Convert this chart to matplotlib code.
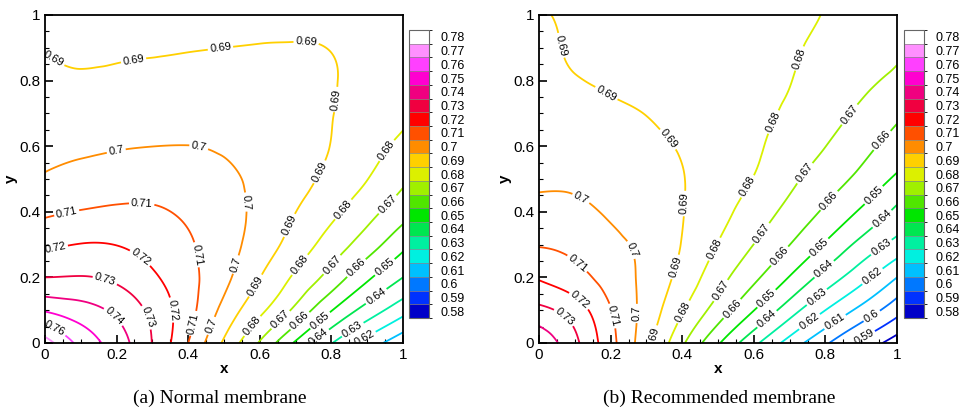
# Contour maps of two membranes with Tecplot-style legends
import numpy as np
import matplotlib
matplotlib.use("Agg")
import matplotlib.pyplot as plt
from matplotlib.colors import ListedColormap, BoundaryNorm
from matplotlib.cm import ScalarMappable
from matplotlib.ticker import MultipleLocator, FormatStrFormatter
from matplotlib.tri import Triangulation, CubicTriInterpolator

plt.rcParams['font.family'] = ['Liberation Sans', 'DejaVu Sans']

# Contour levels and their legend colours (0.58 -> 0.78)
levels = [0.58, 0.59, 0.60, 0.61, 0.62, 0.63, 0.64, 0.65, 0.66, 0.67, 0.68,
          0.69, 0.70, 0.71, 0.72, 0.73, 0.74, 0.75, 0.76, 0.77, 0.78]
level_colors = ['#0000c8', '#0032ff', '#0078ff', '#00c0ff', '#00f0e0', '#00f0a0',
                '#00e650', '#00e600', '#50e600', '#a0f000', '#dcf000', '#ffd000',
                '#ff8c00', '#ff5000', '#ff0000', '#f00040', '#f00080', '#ff00d0',
                '#ff40ff', '#ff90ff', '#ffffff']

# Sample grid
grid_x = [0.0, 0.1, 0.2, 0.3, 0.4, 0.5, 0.6, 0.7, 0.8, 0.9, 1.0]
grid_y = [0.0, 0.1, 0.2, 0.3, 0.4, 0.5, 0.6, 0.7, 0.8, 0.9, 1.0]

# (a) Normal membrane, rows = y, cols = x
field_a = [
    [0.775, 0.757, 0.745, 0.7297, 0.710, 0.6885, 0.669, 0.6485, 0.6305, 0.6157, 0.603],
    [0.749, 0.744, 0.7378, 0.7274, 0.7137, 0.697, 0.6823, 0.6676, 0.6505, 0.636, 0.6237],
    [0.730, 0.7305, 0.728, 0.7216, 0.713, 0.7026, 0.6902, 0.6783, 0.666, 0.6519, 0.640],
    [0.7182, 0.7203, 0.7198, 0.7163, 0.7112, 0.7041, 0.6955, 0.6856, 0.6756, 0.6648, 0.6526],
    [0.7082, 0.7105, 0.7116, 0.7112, 0.7081, 0.7033, 0.6977, 0.6901, 0.6823, 0.6735, 0.664],
    [0.7009, 0.7034, 0.7051, 0.7056, 0.7041, 0.702, 0.6975, 0.693, 0.6874, 0.6802, 0.6718],
    [0.6976, 0.6982, 0.6993, 0.69995, 0.7001, 0.6988, 0.6956, 0.6927, 0.6898, 0.6839, 0.6778],
    [0.6948, 0.6946, 0.6954, 0.6962, 0.6965, 0.6959, 0.694, 0.692, 0.6902, 0.6862, 0.6818],
    [0.692, 0.691, 0.6916, 0.6923, 0.6929, 0.693, 0.6928, 0.6922, 0.6905, 0.6873, 0.6839],
    [0.6895, 0.6885, 0.6888, 0.6892, 0.6896, 0.690, 0.6903, 0.6904, 0.6898, 0.6876, 0.685],
    [0.6865, 0.6855, 0.686, 0.6866, 0.6872, 0.688, 0.6885, 0.6886, 0.688, 0.6865, 0.685],
]

# (b) Recommended membrane
field_b = [
    [0.748, 0.7323, 0.7133, 0.6935, 0.6717, 0.6512, 0.6326, 0.616, 0.6015, 0.5875, 0.575],
    [0.7326, 0.725, 0.7105, 0.6963, 0.6809, 0.6654, 0.6502, 0.6346, 0.620, 0.6071, 0.5938],
    [0.719, 0.7135, 0.7059, 0.6973, 0.6867, 0.6739, 0.6621, 0.6495, 0.636, 0.6235, 0.610],
    [0.7094, 0.7076, 0.703, 0.6971, 0.6896, 0.6796, 0.6699, 0.6601, 0.6489, 0.6371, 0.6266],
    [0.703, 0.7022, 0.6987, 0.6945, 0.6903, 0.6833, 0.6755, 0.6671, 0.6584, 0.6486, 0.6378],
    [0.6985, 0.6984, 0.697, 0.6945, 0.6904, 0.685, 0.6797, 0.6723, 0.6649, 0.6574, 0.6482],
    [0.6965, 0.6955, 0.694, 0.6923, 0.6891, 0.6853, 0.6814, 0.6761, 0.6701, 0.6632, 0.6559],
    [0.6948, 0.6935, 0.6915, 0.6898, 0.6871, 0.6845, 0.6819, 0.6787, 0.6737, 0.6683, 0.6619],
    [0.6932, 0.6905, 0.6888, 0.6871, 0.6853, 0.6836, 0.6819, 0.6802, 0.6763, 0.6722, 0.668],
    [0.6918, 0.6892, 0.6878, 0.6863, 0.6849, 0.6835, 0.6821, 0.6807, 0.6785, 0.6755, 0.6715],
    [0.6905, 0.6891, 0.6878, 0.6865, 0.6851, 0.6838, 0.6824, 0.6811, 0.6797, 0.6765, 0.6735],
]

captions = ['(a) Normal membrane', '(b) Recommended membrane']

# where the contour labels sit in the picture
label_spots_a = [(0.02, 0.86), (0.25, 0.845), (0.49, 0.9), (0.73, 0.925), (0.83, 0.74),
                 (0.77, 0.52), (0.68, 0.36), (0.58, 0.18),
                 (0.2, 0.58), (0.43, 0.6), (0.565, 0.43), (0.53, 0.24), (0.47, 0.05),
                 (0.06, 0.4), (0.27, 0.42), (0.43, 0.27), (0.414, 0.06),
                 (0.03, 0.285), (0.28, 0.28), (0.35, 0.1),
                 (0.17, 0.2), (0.29, 0.08), (0.2, 0.09), (0.03, 0.05),
                 (0.95, 0.59), (0.83, 0.41), (0.71, 0.24), (0.57, 0.06),
                 (0.95, 0.43), (0.79, 0.25), (0.65, 0.08),
                 (0.86, 0.24), (0.71, 0.07), (0.95, 0.23), (0.76, 0.08),
                 (0.92, 0.15), (0.77, 0.01), (0.86, 0.04), (0.89, 0.02)]
label_spots_b = [(0.044, 0.903), (0.188, 0.761), (0.37, 0.629), (0.408, 0.425),
                 (0.38, 0.232), (0.314, 0.018),
                 (0.114, 0.435), (0.268, 0.288), (0.277, 0.09),
                 (0.114, 0.252), (0.212, 0.084), (0.109, 0.125), (0.063, 0.069),
                 (0.739, 0.863), (0.664, 0.669), (0.585, 0.476), (0.496, 0.283), (0.403, 0.095),
                 (0.869, 0.695), (0.743, 0.517), (0.622, 0.334), (0.506, 0.161),
                 (0.958, 0.618), (0.809, 0.435), (0.664, 0.273), (0.534, 0.11),
                 (0.93, 0.456), (0.781, 0.293), (0.627, 0.145),
                 (0.958, 0.379), (0.795, 0.227), (0.632, 0.079),
                 (0.949, 0.303), (0.776, 0.14), (0.925, 0.212), (0.753, 0.069),
                 (0.827, 0.064), (0.925, 0.09), (0.907, 0.018)]

fig = plt.figure(figsize=(9.63, 4.09), dpi=100)

gx, gy = np.meshgrid(grid_x, grid_y)
tri = Triangulation(gx.ravel(), gy.ravel())
fx, fy = np.meshgrid(np.linspace(0, 1, 241), np.linspace(0, 1, 241))

cmap = ListedColormap(level_colors)
bounds = [v - 0.005 for v in levels] + [levels[-1] + 0.005]
norm = BoundaryNorm(bounds, cmap.N)

ax_pos = [[0.0467, 0.1614, 0.3718, 0.802], [0.5597, 0.1614, 0.3718, 0.802]]
cb_pos = [[0.4247, 0.2225, 0.0208, 0.704], [0.9387, 0.2225, 0.0208, 0.704]]
cap_x = [0.228, 0.747]

for i, field in enumerate([field_a, field_b]):
    ax = fig.add_axes(ax_pos[i])
    interp = CubicTriInterpolator(tri, np.array(field).ravel(), kind='min_E')
    fz = interp(fx, fy)
    cs = ax.contour(fx, fy, fz, levels=levels, colors=level_colors, linewidths=1.3)
    spots = [label_spots_a, label_spots_b][i]
    ax.clabel(cs, fmt='%g', fontsize=8, inline=True, inline_spacing=2,
              colors='black', manual=spots)

    ax.set_xlim(0, 1)
    ax.set_ylim(0, 1)
    ax.xaxis.set_major_locator(MultipleLocator(0.2))
    ax.yaxis.set_major_locator(MultipleLocator(0.2))
    ax.xaxis.set_minor_locator(MultipleLocator(0.05))
    ax.yaxis.set_minor_locator(MultipleLocator(0.05))
    ax.xaxis.set_major_formatter(FormatStrFormatter('%g'))
    ax.yaxis.set_major_formatter(FormatStrFormatter('%g'))
    ax.tick_params(which='major', direction='in', length=6, width=1.2, labelsize=11)
    ax.tick_params(which='minor', direction='in', length=3, width=0.8)
    for sp in ax.spines.values():
        sp.set_linewidth(1.3)
    ax.set_xlabel('x', fontsize=11, fontweight='bold', labelpad=0)
    ax.set_ylabel('y', fontsize=11, fontweight='bold', labelpad=1)

    cax = fig.add_axes(cb_pos[i])
    cb = fig.colorbar(ScalarMappable(norm=norm, cmap=cmap), cax=cax,
                      ticks=levels, drawedges=True)
    cb.set_ticklabels(['%g' % v for v in levels])
    cb.ax.tick_params(length=0, labelsize=9, pad=8)
    cb.outline.set_edgecolor('#666666')
    cb.outline.set_linewidth(0.8)
    cb.dividers.set_color('#888888')
    cb.dividers.set_linewidth(0.5)

    fig.text(cap_x[i], 0.027, captions[i], ha='center', va='center',
             fontsize=14, family=['Liberation Serif', 'DejaVu Serif'])

fig.savefig('out.png', dpi=100)
